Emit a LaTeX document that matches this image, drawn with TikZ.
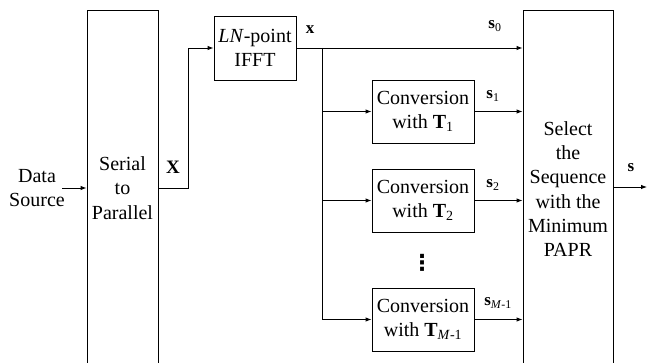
\documentclass[tikz,border=0pt]{standalone}
\usepackage{fontspec}
\setmainfont{Liberation Serif}
\newfontfamily\symfont{DejaVu Sans}
\usetikzlibrary{arrows.meta}
\begin{document}
\begin{tikzpicture}[x=1pt,y=1pt,
  every node/.style={font=\rmfamily\fontsize{20}{24.3}\selectfont},
  blk/.style={draw,line width=0.9pt,inner sep=0pt,align=center},
  conn/.style={line width=0.9pt},
  arr/.style={conn,-{Latex[length=6pt,width=4.5pt]}},
  lbl/.style={inner sep=0pt,font=\rmfamily\fontsize{17}{20}\selectfont\bfseries}]
\useasboundingbox (0,0) rectangle (648,363);
\clip (0,0) rectangle (648,363);
% blocks
\node[blk,minimum width=71pt,minimum height=356pt] (sp) at (122.5,175) {Serial\\to\\Parallel};
\node[blk,minimum width=90pt,minimum height=358pt] (sel) at (568,174) {Select\\the\\Sequence\\with the\\Minimum\\PAPR};
\node[blk,minimum width=82pt,minimum height=64pt] (ifft) at (255,315) {\textit{LN}-point\\IFFT};
\node[blk,minimum width=102pt,minimum height=63pt] (c1) at (423,251.5) {Conversion\\with \textbf{T}\textsubscript{1}};
\node[blk,minimum width=102pt,minimum height=63pt] (c2) at (423,162.5) {Conversion\\with \textbf{T}\textsubscript{2}};
\node[blk,minimum width=102pt,minimum height=63pt] (c3) at (423,43.5) {Conversion\\with \textbf{T}\textsubscript{\textit{M}-1}};
\node[align=center,inner sep=0pt] (ds) at (37,175) {Data\\Source};
\node[inner sep=0pt,font=\symfont\fontsize{22}{22}\selectfont\bfseries] (dots) at (422,100) {⋮};
% coordinates
\coordinate (k1) at (188,175);
\coordinate (k2) at (188,315);
\coordinate (br) at (322,315);
\coordinate (bend) at (322,43.5);
\coordinate (out) at (647,176);
% connectors
\draw[arr] (62,175) -- (sp.west |- ds);
\draw[arr] (sp.east |- k1) -- (k1) -- (k2) -- (ifft.west);
\draw[arr] (ifft.east) -- (sel.west |- ifft.east);
\draw[conn] (br) -- (bend);
\draw[arr] (br |- c1.west) -- (c1.west);
\draw[arr] (br |- c2.west) -- (c2.west);
\draw[arr] (bend) -- (c3.west);
\draw[arr] (c1.east) -- (sel.west |- c1.east);
\draw[arr] (c2.east) -- (sel.west |- c2.east);
\draw[arr] (c3.east) -- (sel.west |- c3.east);
\draw[arr] (sel.east |- out) -- (out);
% labels
\node[lbl,font=\rmfamily\fontsize{19}{22}\selectfont\bfseries] (lX) at (173,196) {X};
\node[lbl] (lx) at (310,333) {x};
\node[lbl] (ls0) at (495,337) {s\textsubscript{\normalfont 0}};
\node[lbl] (ls1) at (493,267) {s\textsubscript{\normalfont 1}};
\node[lbl] (ls2) at (493,178) {s\textsubscript{\normalfont 2}};
\node[lbl] (ls3) at (498,60) {s\textsubscript{\normalfont\textit{M}-1}};
\node[lbl] (ls) at (631,195) {s};
\end{tikzpicture}
\end{document}
